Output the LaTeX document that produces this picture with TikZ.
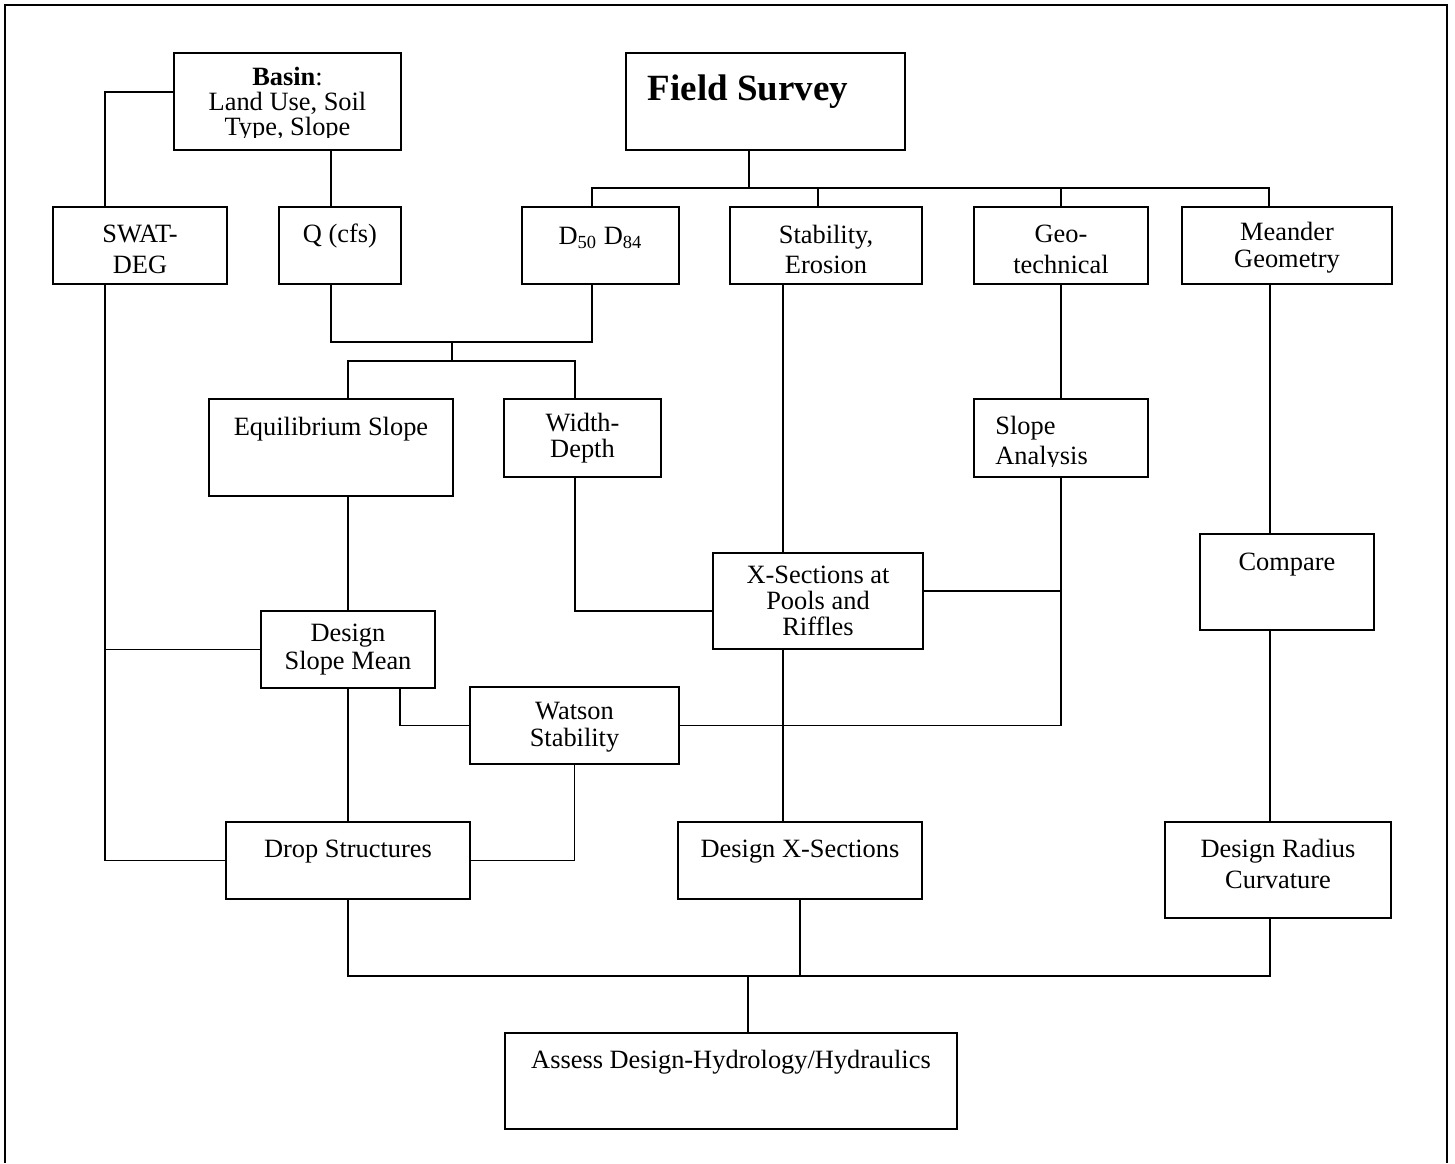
\documentclass[tikz,border=0pt]{standalone}
\usepackage{fontspec}
\setmainfont{Liberation Serif}
\usetikzlibrary{fit}
\newcommand{\mybox}[5]{%
  \coordinate (#1-a) at (#2,#3);
  \coordinate (#1-b) at (#4,#5);
  \node[bx, fit=(#1-a)(#1-b)] (#1) {};}
\begin{document}
\begin{tikzpicture}[x=0.5pt,y=-0.5pt,
  bx/.style={draw, line width=1pt, inner sep=0pt, rectangle},
  ln/.style={line width=0.8pt},
  frm/.style={line width=1.2pt},
  txt/.style={inner sep=0pt, align=center, font=\fontsize{13.2}{13.5}\selectfont}]
\useasboundingbox (0,0) rectangle (1455,1163);
% outer frame
\draw[frm] (5,1163) -- (5,5) -- (1447,5) -- (1447,1163);

% boxes
\mybox{basin}{174}{53}{401}{150}
\mybox{field}{626}{53}{905}{150}
\mybox{swat}{53}{207}{227}{284}
\mybox{q}{279}{207}{401}{284}
\mybox{dfif}{522}{207}{679}{284}
\mybox{stab}{730}{207}{922}{284}
\mybox{geo}{974}{207}{1148}{284}
\mybox{mean}{1182}{207}{1392}{284}
\mybox{equi}{209}{399}{453}{496}
\mybox{wd}{504}{399}{661}{477}
\mybox{slan}{974}{399}{1148}{477}
\mybox{xsec}{713}{553}{923}{649}
\mybox{comp}{1200}{534}{1374}{630}
\mybox{dsm}{261}{611}{435}{688}
\mybox{wat}{470}{687}{679}{764}
\mybox{drop}{226}{822}{470}{899}
\mybox{dxs}{678}{822}{922}{899}
\mybox{drc}{1165}{822}{1391}{918}
\mybox{ass}{505}{1033}{957}{1129}

% texts
\begin{scope}
  \clip (basin.north west) rectangle (basin.east |- 0,137);
  \node[txt, font=\fontsize{13.2}{12.5}\selectfont] (basin-t) at (287.5,104.3) {\textbf{Basin}:\\Land Use, Soil\\Type, Slope};
\end{scope}
\node[txt, anchor=base, font=\bfseries\fontsize{18.5}{20}\selectfont] (field-t) at (748,100) {Field Survey};
\node[txt, font=\fontsize{13.2}{15.5}\selectfont] (swat-t) at (140,249) {SWAT-\\DEG};
\node[txt, anchor=base] (q-t) at (340,242) {Q (cfs)};
\node[txt, anchor=base] (dfif-t) at (600.5,244) {D\textsubscript{50} D\textsubscript{84}};
\node[txt, font=\fontsize{13.2}{15}\selectfont] (stab-t) at (826,249) {Stability,\\Erosion};
\node[txt, font=\fontsize{13.2}{15.5}\selectfont] (geo-t) at (1061,249) {Geo-\\technical};
\node[txt, font=\fontsize{13.2}{13.5}\selectfont] (mean-t) at (1287,247.4) {Meander\\Geometry};
\node[txt, anchor=base] (equi-t) at (331,435) {Equilibrium Slope};
\node[txt, font=\fontsize{13.2}{12.8}\selectfont] (wd-t) at (582.5,438.4) {Width-\\Depth};
\begin{scope}
  \clip (slan.north west) rectangle (slan.east |- 0,466);
  \node[txt, anchor=west, align=left, font=\fontsize{13.2}{15}\selectfont] (slan-t) at (995,442.9) {Slope\\Analysis};
\end{scope}
\node[txt, font=\fontsize{13.2}{13}\selectfont] (xsec-t) at (818,601.3) {X-Sections at\\Pools and\\Riffles};
\node[txt, anchor=base] (comp-t) at (1287,570) {Compare};
\node[txt, font=\fontsize{13.2}{14}\selectfont] (dsm-t) at (348,649.9) {Design\\Slope Mean};
\node[txt, font=\fontsize{13.2}{13.5}\selectfont] (wat-t) at (574.5,726.7) {Watson\\Stability};
\node[txt, anchor=base] (drop-t) at (348,857) {Drop Structures};
\node[txt, anchor=base] (dxs-t) at (800,857) {Design X-Sections};
\node[txt, font=\fontsize{13.2}{15.5}\selectfont] (drc-t) at (1278,863.5) {Design Radius\\Curvature};
\node[txt, anchor=base] (ass-t) at (731,1068) {Assess Design-Hydrology/Hydraulics};

% connectors
\draw[ln] (basin.west |- 0,92) -| (swat.north -| 105,0);
\draw[ln] (basin.south -| 331,0) -- (q.north -| 331,0);
\coordinate (fbc) at (749,188);
\draw[ln] (field.south -| fbc) -- (fbc);
\draw[ln] (dfif.north -| 592,0) |- (fbc);
\draw[ln] (mean.north -| 1269,0) |- (fbc);
\draw[ln] (stab.north -| 818,0) |- (fbc);
\draw[ln] (geo.north) |- (fbc);
\coordinate (qd) at (452,342);
\draw[ln] (q.south -| 331,0) |- (qd);
\draw[ln] (dfif.south -| 592,0) |- (qd);
\coordinate (ew) at (452,361);
\draw[ln] (qd) -- (ew);
\draw[ln] (equi.north -| 348,0) |- (ew);
\draw[ln] (wd.north -| 575,0) |- (ew);
\draw[ln] (equi.south -| dsm.north) -- (dsm.north);
\draw[ln] (swat.south -| 105,0) |- (drop.west);
\draw[ln] (dsm.west) -- (dsm.west -| 105,0);
\draw[ln] (dsm.south) -- (drop.north);
\draw[ln] (dsm.south -| 400,0) |- (wat.west);
\draw[ln] (wat.south) |- (drop.east);
\draw[ln] (wat.east) -| (slan.south);
\draw[ln] (xsec.east |- 0,591) -- (slan.south |- 0,591);
\draw[ln] (wd.south -| 575,0) |- (xsec.west |- 0,611);
\draw[ln] (stab.south -| 783,0) -- (xsec.north -| 783,0);
\draw[ln] (xsec.south -| 783,0) -- (dxs.north -| 783,0);
\draw[ln] (geo.south) -- (slan.north);
\draw[ln] (mean.south -| 1270,0) -- (comp.north -| 1270,0);
\draw[ln] (comp.south -| 1270,0) -- (drc.north -| 1270,0);
\coordinate (bb) at (748,976);
\draw[ln] (drop.south) |- (bb);
\draw[ln] (dxs.south) |- (bb);
\draw[ln] (drc.south -| 1270,0) |- (bb);
\draw[ln] (bb) -- (ass.north -| bb);
\end{tikzpicture}
\end{document}
